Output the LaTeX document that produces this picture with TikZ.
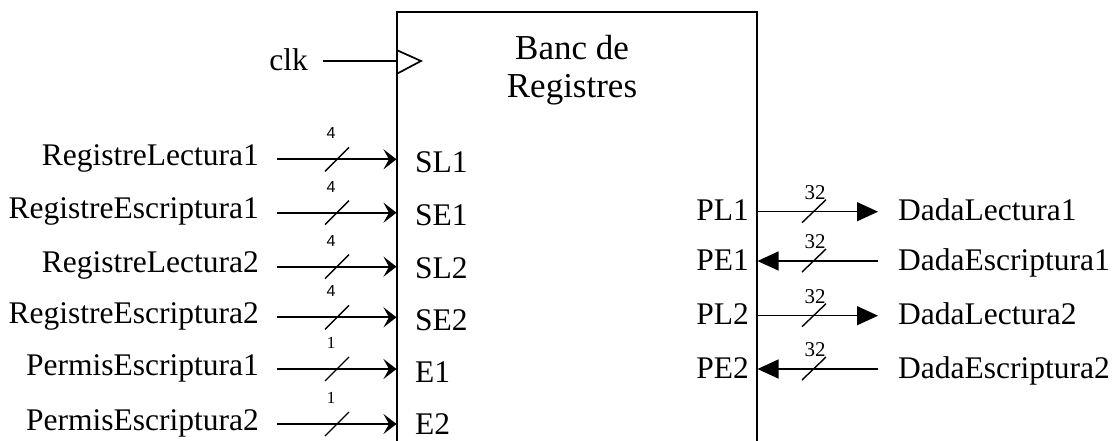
\documentclass[tikz,border=0pt]{standalone}
\usepackage{fontspec}
\setmainfont{Liberation Serif}
\newfontfamily\arialf{Liberation Sans}
\usetikzlibrary{arrows.meta,calc}
\begin{document}
\begin{tikzpicture}[x=1pt,y=-1pt,
  lbl/.style={inner sep=0pt,font=\fontsize{31.5}{37}\selectfont},
  ttl/.style={inner sep=0pt,font=\fontsize{35}{39}\selectfont},
  wsans/.style={inner sep=0pt,font=\arialf\fontsize{16}{18}\selectfont},
  wserif/.style={inner sep=0pt,font=\fontsize{17}{19}\selectfont},
  wbig/.style={inner sep=0pt,font=\fontsize{21}{24}\selectfont},
  inarr/.style={line width=2pt,-{Stealth[length=13pt,width=20pt,inset=5.5pt]}},
  outarr/.style={line width=1.3pt,-{Triangle[length=21pt,width=19pt]}},
  slash/.style={line width=1.4pt},
  boxline/.style={line width=2pt}]
\useasboundingbox (0,0) rectangle (1113,441);

% block
\coordinate (bl) at (396.5,442);
\coordinate (tl) at (396.5,12.5);
\coordinate (tr) at (756.5,12.5);
\coordinate (br) at (756.5,442);
\draw[boxline] (bl) -- (tl) -- (tr) -- (br);

\node[ttl,anchor=base] (title1) at (572,60) {Banc de};
\node[ttl,anchor=base] (title2) at (572,98) {Registres};

% clock
\node[lbl,anchor=base east] (clk) at (308,71) {clk};
\coordinate (clks) at (323,61);
\coordinate (clkp) at (396.5,61);
\draw[line width=1.7pt] (clks) -- (clkp);
\draw[line width=1.7pt,line join=miter] (clkp) ++(0,-11) -- ++(24.5,11) -- ++(-24.5,13);

% inputs
\foreach \i/\nm/\pt/\w/\ws/\y/\b in {
  1/RegistreLectura1/SL1/4/wsans/159.3/13,
  2/RegistreEscriptura1/SE1/4/wsans/212.7/13,
  3/RegistreLectura2/SL2/4/wsans/266.7/12,
  4/RegistreEscriptura2/SE2/4/wsans/317.3/13,
  5/PermisEscriptura1/E1/1/wserif/369/13,
  6/PermisEscriptura2/E2/1/wserif/424/10.5}{
  \node[lbl,anchor=base east] (n\i) at (259,\y+6) {\nm};
  \node[lbl,anchor=base west] (q\i) at (415,\y+\b) {\pt};
  \coordinate (s\i) at (277,\y);
  \coordinate (p\i) at (396.5,\y);
  \draw[inarr] (s\i) -- (p\i);
  \draw[slash] ($(s\i)+(48,12)$) -- ++(24,-24);
  \node[\ws] (w\i) at (331,\y-26) {\w};
}

% outputs
\foreach \i/\pt/\nm/\y in {
  1/PL1/DadaLectura1/211.7,
  3/PL2/DadaLectura2/315.7}{
  \node[lbl,anchor=base east] (o\i) at (749,\y+9) {\pt};
  \node[lbl,anchor=base west] (d\i) at (898,\y+9) {\nm};
  \coordinate (r\i) at (756.5,\y);
  \coordinate (e\i) at (878,\y);
  \draw[outarr] (r\i) -- (e\i);
  \draw[slash] ($(r\i)+(45.5,11)$) -- ++(24,-23);
  \node[wbig] (x\i) at (815,\y-19) {32};
}
\foreach \i/\pt/\nm/\y in {
  2/PE1/DadaEscriptura1/261,
  4/PE2/DadaEscriptura2/369}{
  \node[lbl,anchor=base east] (o\i) at (749,\y+9) {\pt};
  \node[lbl,anchor=base west] (d\i) at (898,\y+9) {\nm};
  \coordinate (r\i) at (757.5,\y);
  \coordinate (e\i) at (878,\y);
  \draw[outarr] (e\i) -- (r\i);
  \draw[slash] ($(r\i)+(44.5,11)$) -- ++(24,-23);
  \node[wbig] (x\i) at (815,\y-19) {32};
}
\end{tikzpicture}
\end{document}
